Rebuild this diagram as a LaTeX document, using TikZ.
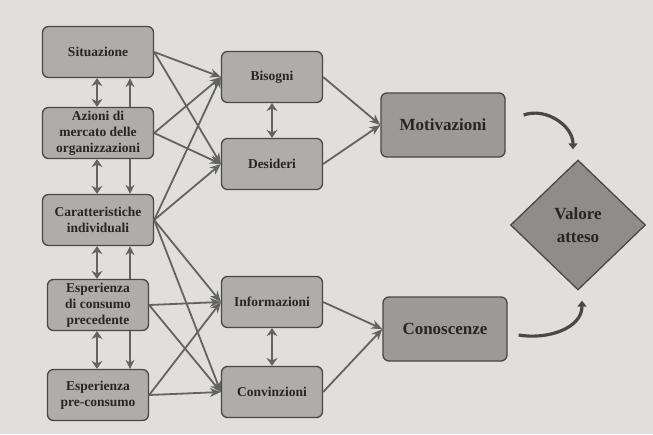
\documentclass[tikz,border=0pt]{standalone}
\usepackage{fontspec}
\setmainfont{Liberation Serif}
\usepackage{tikz}
\usepackage{xcolor}
\usetikzlibrary{shapes.geometric}
\usetikzlibrary{positioning}
\usetikzlibrary{arrows.meta}
\definecolor{paper}{HTML}{E0DFDB}
\definecolor{boxgray}{HTML}{AEADAA}
\definecolor{darkbox}{HTML}{9B9A97}
\definecolor{diagray}{HTML}{8E8D8A}
\definecolor{linegray}{HTML}{636361}
\definecolor{edgegray}{HTML}{484846}
\tikzstyle{factor} = [rectangle, rounded corners=6pt, minimum width=111pt, minimum height=51pt, text centered, align=center, draw=edgegray, line width=1.3pt, fill=boxgray, text=black!85, font=\fontsize{13.5}{16}\selectfont\bfseries]
\tikzstyle{narrow} = [factor, minimum width=101pt]
\tikzstyle{outcome} = [factor, minimum width=124pt, minimum height=64pt, fill=darkbox, font=\fontsize{17}{21}\selectfont\bfseries]
\tikzstyle{valuebox} = [diamond, minimum width=135pt, minimum height=130pt, inner sep=0pt, align=center, draw=edgegray, line width=1.3pt, fill=diagray, text=black!85, font=\fontsize{17}{23}\selectfont\bfseries]
\tikzstyle{arrow} = [line width=1.8pt, draw=linegray, ->, >={Stealth[length=11pt,width=9pt]}]
\tikzstyle{twoway} = [line width=2.8pt, draw=linegray, <->, >={Stealth[length=8pt,width=11pt]}]
\tikzstyle{oneway} = [line width=1.8pt, draw=linegray, ->, >={Stealth[length=9pt,width=9pt]}]
\tikzstyle{curvearrow} = [line width=3.2pt, draw=edgegray, ->, >={Triangle[length=6pt,width=9pt]}]

\begin{document}
\begin{tikzpicture}[x=1pt, y=1pt, node distance=85pt]
        \useasboundingbox (0,0) rectangle (653,-434);
        \fill[paper] (0,0) rectangle (653,-434);

        \node (sit) [factor] at (98,-52) {Situazione};
        \node (azi) [factor, below of=sit, yshift=4pt] {Azioni di\\ mercato delle\\ organizzazioni};
        \node (car) [factor, below of=azi, yshift=-2pt] {Caratteristiche\\ individuali};
        \node (espc) [narrow, below of=car] {Esperienza\\ di consumo\\ precedente};
        \node (espp) [narrow, below of=espc, yshift=-5pt] {Esperienza\\ pre-consumo};

        \node (bis) [narrow, right of=sit, xshift=89pt, yshift=-25pt] {Bisogni};
        \node (des) [narrow, below of=bis, yshift=-2pt] {Desideri};
        \node (inf) [narrow, below of=des, yshift=-53pt] {Informazioni};
        \node (conv) [narrow, below of=inf, yshift=-5pt] {Convinzioni};

        \node (mot) [outcome, right of=bis, xshift=86pt, yshift=-48pt] {Motivazioni};
        \node (con) [outcome, right of=inf, xshift=88pt, yshift=-27pt] {Conoscenze};
        \node (val) [valuebox, right of=mot, xshift=50pt, yshift=-100pt] {Valore\\ atteso};

        % links inside the left column
        \draw [twoway] ([xshift=-1pt]sit.south) -- ([xshift=-1pt]azi.north);
        \draw [oneway] ([xshift=32pt]azi.north) -- ([xshift=32pt]sit.south);
        \draw [twoway] ([xshift=-1pt]azi.south) -- ([xshift=-1pt]car.north);
        \draw [oneway] ([xshift=32pt]azi.south) -- ([xshift=32pt]car.north);
        \draw [twoway] ([xshift=-1pt]car.south) -- ([xshift=-1pt]espc.north);
        \draw [oneway] ([xshift=32pt]espc.north) -- ([xshift=32pt]car.south);
        \draw [twoway] ([xshift=-1pt]espc.south) -- ([xshift=-1pt]espp.north);
        \draw [oneway] ([xshift=32pt]espc.south) -- ([xshift=32pt]espp.north);

        % left column to the middle
        \draw [arrow] (sit.east) -- (bis.west);
        \draw [arrow] (sit.east) -- (des.west);
        \draw [arrow] (azi.east) -- (bis.west);
        \draw [arrow] (azi.east) -- (des.west);
        \draw [arrow] (car.east) -- (bis.west);
        \draw [arrow] (car.east) -- (des.west);
        \draw [arrow] (car.east) -- (inf.west);
        \draw [arrow] (car.east) -- (conv.west);
        \draw [arrow] (espc.east) -- (inf.west);
        \draw [arrow] (espc.east) -- (conv.west);
        \draw [arrow] (espp.east) -- (inf.west);
        \draw [arrow] (espp.east) -- (conv.west);

        % middle pairs
        \draw [twoway] (bis.south) -- (des.north);
        \draw [twoway] (inf.south) -- (conv.north);

        % middle to the right
        \draw [arrow] (bis.east) -- (mot.west);
        \draw [arrow] (des.east) -- (mot.west);
        \draw [arrow] (inf.east) -- (con.west);
        \draw [arrow] (conv.east) -- (con.west);

        % towards the expected value
        \draw [curvearrow] ([shift={(18pt,10pt)}]mot.east) to[out=20, in=90] ([shift={(-5pt,10pt)}]val.north);
        \draw [curvearrow] ([shift={(11pt,-6pt)}]con.east) to[out=-10, in=-90] ([shift={(4pt,-10pt)}]val.south);
    \end{tikzpicture}
\end{document}
